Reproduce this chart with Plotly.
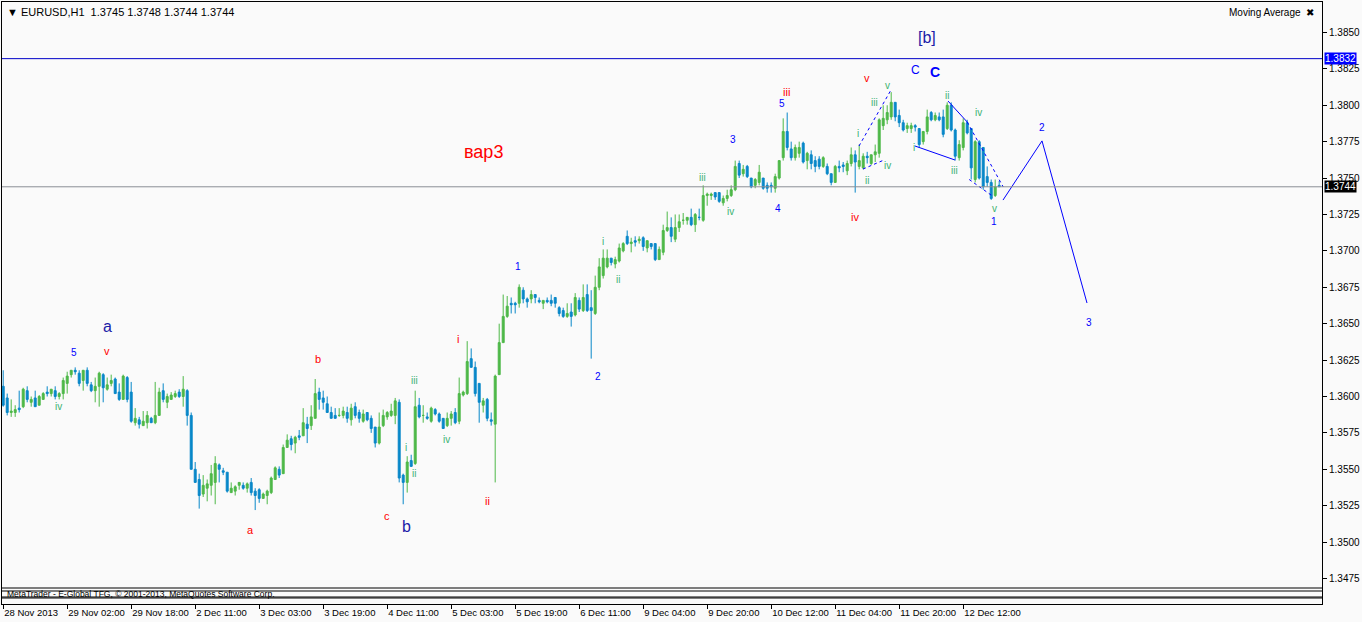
import plotly.graph_objects as go

# ---------------- data (EURUSD H1, prices in pips: 3607 -> 1.3607) ----------------
opens = [3607,3599,3589,3589,3592,3593,3604,3596,3599,3594,
         3598,3603,3602,3604,3600,3602,3609,3615,3618,3616,
         3611,3618,3608,3604,3607,3615,3605,3609,3612,3603,
         3598,3613,3603,3582,3584,3580,3582,3585,3582,3587,
         3604,3596,3598,3600,3603,3600,3604,3587,3550,3543,
         3533,3537,3539,3541,3553,3549,3548,3534,3535,3539,
         3539,3537,3541,3535,3536,3530,3532,3534,3543,3550,
         3547,3565,3571,3568,3573,3573,3581,3580,3585,3603,
         3599,3595,3589,3587,3587,3587,3589,3584,3593,3589,
         3583,3589,3585,3579,3568,3580,3586,3587,3587,3596,
         3546,3541,3556,3554,3594,3587,3586,3583,3591,3588,
         3585,3580,3585,3589,3583,3601,3602,3626,3620,3609,
         3594,3598,3584,3581,3615,3637,3655,3664,3664,3664,
         3673,3667,3667,3670,3666,3664,3666,3666,3668,3661,
         3659,3655,3658,3656,3666,3659,3670,3661,3657,3675,
         3683,3689,3695,3691,3693,3700,3710,3705,3707,3707,
         3709,3702,3705,3705,3694,3699,3714,3716,3708,3716,
         3721,3721,3723,3718,3723,3721,3738,3738,3740,3740,
         3733,3736,3738,3742,3760,3753,3758,3750,3745,3747,
         3750,3745,3745,3743,3750,3764,3782,3770,3764,3767,
         3774,3762,3766,3762,3763,3758,3758,3753,3747,3758,
         3759,3755,3760,3766,3758,3757,3765,3760,3766,3767,
         3786,3790,3792,3802,3793,3788,3784,3784,3786,3784,
         3775,3782,3795,3790,3792,3792,3784,3800,3783,3764,
         3771,3788,3784,3749,3775,3771,3751,3747,3738,3745]
highs = [3618,3602,3598,3594,3604,3606,3607,3600,3604,3601,
         3603,3607,3605,3607,3603,3613,3617,3618,3620,3618,
         3618,3620,3610,3613,3617,3616,3613,3615,3613,3609,
         3615,3614,3610,3592,3586,3590,3590,3586,3610,3606,
         3609,3602,3603,3604,3605,3614,3605,3589,3555,3547,
         3546,3543,3553,3559,3554,3551,3548,3541,3539,3541,
         3541,3541,3544,3537,3537,3534,3536,3545,3552,3552,
         3567,3574,3573,3573,3577,3592,3586,3594,3612,3606,
         3604,3600,3593,3592,3592,3593,3593,3595,3596,3591,
         3591,3589,3587,3579,3589,3591,3590,3595,3599,3598,
         3547,3559,3560,3604,3599,3594,3589,3593,3592,3589,
         3585,3589,3590,3592,3613,3604,3638,3633,3624,3609,
         3599,3599,3589,3615,3650,3670,3669,3668,3665,3677,
         3675,3668,3673,3670,3668,3666,3668,3670,3668,3662,
         3661,3664,3664,3671,3668,3677,3677,3673,3683,3695,
         3701,3701,3695,3696,3705,3706,3714,3709,3710,3710,
         3710,3707,3705,3705,3703,3718,3727,3723,3725,3725,
         3726,3723,3729,3726,3729,3745,3740,3740,3740,3740,
         3738,3742,3745,3762,3762,3759,3759,3750,3750,3759,
         3750,3747,3747,3753,3762,3791,3795,3775,3773,3775,
         3775,3768,3769,3765,3765,3765,3760,3753,3759,3762,
         3761,3762,3771,3769,3773,3767,3768,3766,3773,3791,
         3800,3800,3809,3802,3797,3790,3788,3788,3787,3784,
         3782,3797,3796,3795,3795,3797,3802,3802,3784,3776,
         3791,3790,3784,3776,3776,3771,3758,3749,3749,3748]
lows = [3593,3587,3586,3586,3589,3592,3596,3593,3593,3594,
        3598,3600,3600,3598,3598,3598,3602,3613,3615,3607,
        3604,3607,3603,3596,3593,3596,3604,3607,3602,3597,
        3598,3596,3582,3580,3578,3580,3578,3582,3581,3587,
        3596,3592,3598,3599,3599,3593,3580,3550,3541,3523,
        3531,3528,3532,3526,3541,3546,3534,3534,3532,3536,
        3536,3534,3532,3522,3527,3530,3526,3533,3543,3544,
        3547,3565,3563,3561,3570,3573,3568,3577,3585,3591,
        3591,3589,3585,3585,3586,3585,3582,3580,3585,3582,
        3582,3583,3575,3565,3567,3579,3584,3586,3581,3541,
        3526,3534,3552,3553,3585,3582,3584,3582,3587,3582,
        3578,3579,3580,3581,3581,3600,3601,3620,3600,3582,
        3589,3583,3580,3541,3615,3637,3654,3657,3657,3661,
        3664,3661,3664,3664,3664,3660,3664,3662,3661,3655,
        3654,3654,3648,3655,3658,3658,3658,3626,3656,3673,
        3681,3688,3690,3688,3692,3699,3704,3699,3703,3705,
        3700,3699,3701,3693,3694,3697,3713,3706,3706,3713,
        3718,3718,3717,3713,3721,3720,3731,3735,3735,3733,
        3731,3734,3737,3741,3750,3751,3750,3743,3743,3745,
        3742,3740,3740,3740,3749,3762,3769,3762,3762,3764,
        3760,3756,3756,3754,3756,3757,3752,3745,3747,3754,
        3754,3752,3758,3740,3756,3756,3760,3759,3761,3764,
        3783,3787,3790,3789,3785,3782,3781,3781,3782,3771,
        3773,3780,3789,3789,3789,3778,3783,3782,3762,3762,
        3769,3780,3749,3747,3749,3742,3744,3735,3737,3744]
closes = [3594,3589,3590,3591,3591,3605,3598,3598,3593,3600,
          3602,3602,3605,3600,3602,3611,3614,3618,3617,3609,
          3618,3609,3604,3607,3616,3606,3608,3611,3602,3598,
          3614,3598,3583,3585,3581,3583,3587,3582,3587,3603,
          3598,3600,3601,3602,3600,3605,3587,3550,3541,3532,
          3539,3540,3547,3554,3550,3548,3535,3537,3538,3541,
          3537,3540,3534,3532,3530,3533,3535,3544,3551,3546,
          3565,3570,3567,3572,3572,3582,3578,3586,3602,3598,
          3596,3589,3585,3585,3587,3590,3585,3592,3587,3585,
          3588,3584,3578,3568,3579,3587,3589,3590,3597,3544,
          3541,3555,3552,3593,3586,3587,3585,3592,3588,3583,
          3578,3585,3588,3582,3602,3603,3624,3620,3602,3596,
          3597,3585,3583,3614,3637,3655,3662,3663,3663,3675,
          3667,3665,3670,3668,3665,3666,3665,3664,3664,3657,
          3655,3657,3655,3668,3660,3668,3659,3659,3675,3689,
          3695,3695,3692,3694,3702,3705,3705,3706,3706,3708,
          3703,3707,3703,3694,3701,3714,3716,3710,3716,3720,
          3721,3723,3718,3725,3723,3738,3739,3739,3737,3734,
          3736,3738,3742,3758,3752,3756,3751,3744,3749,3754,
          3743,3743,3744,3751,3762,3782,3771,3764,3771,3771,
          3761,3767,3760,3758,3758,3764,3753,3747,3758,3757,
          3758,3760,3766,3761,3762,3765,3764,3766,3768,3790,
          3791,3795,3802,3792,3788,3783,3786,3786,3785,3773,
          3782,3792,3790,3793,3790,3780,3800,3783,3765,3773,
          3788,3781,3757,3775,3750,3744,3747,3736,3744,3744]

tick_bars = [0, 16, 32, 48, 64, 80, 96, 112, 128, 144, 160, 176, 192, 208, 224, 240]
tick_labels = ["28 Nov 2013", "29 Nov 02:00", "29 Nov 18:00", "2 Dec 11:00", "3 Dec 03:00",
               "3 Dec 19:00", "4 Dec 11:00", "5 Dec 03:00", "5 Dec 19:00", "6 Dec 11:00",
               "9 Dec 04:00", "9 Dec 20:00", "10 Dec 12:00", "11 Dec 04:00", "11 Dec 20:00",
               "12 Dec 12:00"]
price_ticks = [1.3475, 1.3500, 1.3525, 1.3550, 1.3575, 1.3600, 1.3625, 1.3650, 1.3675,
               1.3700, 1.3725, 1.3750, 1.3775, 1.3800, 1.3825, 1.3850]

level_line = 1.3832
bid_price = 1.3744
ohlc_header = "1.3745 1.3748 1.3744 1.3744"

# wave labels: (text, bar, price in pips)
red_labels = [("вар3", 120, 3768), ("iii", 195.7, 3809), ("v", 216, 3819), ("iv", 213, 3723),
              ("i", 113.7, 3639.5), ("ii", 121, 3528), ("b", 78.7, 3626), ("v", 26, 3631),
              ("a", 61.7, 3508), ("c", 96, 3518)]
blue_small_labels = [("5", 17.7, 3630.5), ("1", 128.7, 3689.6), ("2", 148.7, 3613.4),
                     ("3", 182.5, 3776.8), ("4", 193.7, 3729.4), ("5", 194.7, 3800.9),
                     ("1", 247.7, 3720.5), ("2", 259.7, 3784.4), ("3", 271.5, 3650.5)]
blue_big_labels = [("a", 26, 3648.4), ("b", 100.7, 3511), ("[b]", 231, 3846.2)]
green_labels = [("iv", 13.7, 3592.8), ("iii", 102.7, 3611.3), ("i", 100.7, 3565.3),
                ("ii", 102.7, 3547.4), ("iv", 110.7, 3570.8), ("i", 150, 3706.1),
                ("ii", 153.7, 3680), ("iii", 174.7, 3750.7), ("iv", 181.7, 3726.7),
                ("i", 213.7, 3780.3), ("ii", 216, 3748), ("iii", 217.7, 3802.2),
                ("v", 221, 3813.9), ("iv", 221, 3758.3), ("i", 227.7, 3770.7),
                ("ii", 236, 3806.4), ("iii", 237.7, 3755.5), ("iv", 243.7, 3794.7),
                ("v", 247.7, 3729.4)]

# projected path (solid) and wedge lines
proj_bars = [249.95, 259.7, 270.95]
proj_pips = [3734.9, 3775.5, 3664.2]
dotted_segments = [([213.95, 221.95], [3772.0, 3810.5]),
                   ([214.95, 220.2], [3756.2, 3762.4]),
                   ([241.0, 250.0], [3788.5, 3743.9]),
                   ([241.5, 247.5], [3749.0, 3737.3])]
solid_segments = [([227.95, 237.95], [3772.0, 3762.4]),
                  ([236.2, 241.0], [3802.9, 3788.5])]

# ---------------- figure ----------------
def px(v):
    return 1 + v / 10000.0

GREEN = "#4DB848"
BLUE = "#0887C8"
RED = "#FF0000"
WBLUE = "#0000FF"
NAVY = "#1C1CA8"
WGREEN = "#3CB371"
BG = "#FAFAFA"
FONT = "Liberation Sans"

fig = go.Figure()
fig.add_trace(go.Candlestick(
    x=list(range(len(opens))),
    open=[px(v) for v in opens], high=[px(v) for v in highs],
    low=[px(v) for v in lows], close=[px(v) for v in closes],
    increasing=dict(line=dict(color=GREEN, width=1), fillcolor=GREEN),
    decreasing=dict(line=dict(color=BLUE, width=1), fillcolor=BLUE),
    whiskerwidth=0, hoverinfo="skip", showlegend=False))

fig.add_trace(go.Scatter(x=proj_bars, y=[px(v) for v in proj_pips], mode="lines",
                         line=dict(color=WBLUE, width=1), hoverinfo="skip", showlegend=False))
for xs, ys in dotted_segments:
    fig.add_trace(go.Scatter(x=xs, y=[px(v) for v in ys], mode="lines",
                             line=dict(color=WBLUE, width=1, dash="dot"),
                             hoverinfo="skip", showlegend=False))
for xs, ys in solid_segments:
    fig.add_trace(go.Scatter(x=xs, y=[px(v) for v in ys], mode="lines",
                             line=dict(color=WBLUE, width=1),
                             hoverinfo="skip", showlegend=False))

ann = []
def lab(t, b, p, color, size, bold=False):
    ann.append(dict(x=b, y=px(p), xref="x", yref="y", text=("<b>%s</b>" % t) if bold else t,
                    showarrow=False, font=dict(family=FONT, size=size, color=color),
                    xanchor="center", yanchor="middle"))

for t, b, p in red_labels:
    lab(t, b, p, RED, 18 if t == "вар3" else 11)
for t, b, p in blue_small_labels:
    lab(t, b, p, WBLUE, 10)
for t, b, p in blue_big_labels:
    lab(t, b, p, NAVY, 16)
lab("C", 228, 3824.2, WBLUE, 12)
lab("C", 233, 3822.9, WBLUE, 14, bold=True)
for t, b, p in green_labels:
    lab(t, b, p, WGREEN, 10)

# header texts
ann.append(dict(x=0.0025, y=0.983, xref="paper", yref="paper", showarrow=False,
                text="▼ EURUSD,H1  " + ohlc_header, xanchor="left", yanchor="middle",
                font=dict(family=FONT, size=11, color="black")))
ann.append(dict(x=0.9955, y=0.983, xref="paper", yref="paper", showarrow=False,
                text="Moving Average  ✖", xanchor="right", yanchor="middle",
                font=dict(family=FONT, size=10, color="black")))
ann.append(dict(x=0.0025, y=0.0166, xref="paper", yref="paper", showarrow=False,
                text="MetaTrader - E-Global TFG, © 2001-2013, MetaQuotes Software Corp.",
                xanchor="left", yanchor="middle",
                font=dict(family=FONT, size=8.5, color="black")))
# price tags
ann.append(dict(x=1.0015, y=level_line, xref="paper", yref="y", showarrow=False,
                text=f"{level_line:.4f}", xanchor="left", yanchor="middle", bgcolor="#0000FF",
                borderpad=0, font=dict(family=FONT, size=10, color="white")))
ann.append(dict(x=1.0015, y=bid_price, xref="paper", yref="y", showarrow=False,
                text=f"{bid_price:.4f}", xanchor="left", yanchor="middle", bgcolor="black",
                borderpad=0, font=dict(family=FONT, size=10, color="white")))

shapes = [
    dict(type="line", xref="paper", yref="y", x0=0, x1=1, y0=level_line, y1=level_line,
         line=dict(color="#0000C8", width=1)),
    dict(type="line", xref="paper", yref="y", x0=0, x1=1, y0=bid_price, y1=bid_price,
         line=dict(color="#8A8F96", width=1)),
]
for yp in [588, 591, 597, 598]:
    yy = (604 - yp) / 602.0
    shapes.append(dict(type="line", xref="paper", yref="paper", x0=0, x1=1, y0=yy, y1=yy,
                       line=dict(color="black", width=1)))

fig.update_layout(
    width=1362, height=622,
    margin=dict(l=2, r=40, t=2, b=18, pad=0, autoexpand=False),
    paper_bgcolor=BG, plot_bgcolor=BG,
    showlegend=False, annotations=ann, shapes=shapes,
    xaxis=dict(range=[-0.3, 329.7], tickmode="array", tickvals=tick_bars, ticktext=tick_labels,
               tickangle=0, automargin=False,
               ticks="outside", ticklen=4, tickcolor="black", showline=True, linecolor="black",
               linewidth=1, mirror=True, showgrid=False, zeroline=False,
               rangeslider=dict(visible=False), ticklabelposition="outside right",
               tickfont=dict(family=FONT, size=9.5, color="black")),
    yaxis=dict(range=[1.34575, 1.38709], side="right", tickmode="array", tickvals=price_ticks,
               ticktext=[f"{v:.4f}" for v in price_ticks], ticks="outside", ticklen=4,
               automargin=False,
               tickcolor="black", showline=True, linecolor="black", linewidth=1, mirror=True,
               showgrid=False, zeroline=False,
               tickfont=dict(family=FONT, size=10, color="black")),
)

fig.write_html("out.html", config={"displayModeBar": False},
               post_script="document.body.style.margin='0';document.body.style.overflow='hidden';")
